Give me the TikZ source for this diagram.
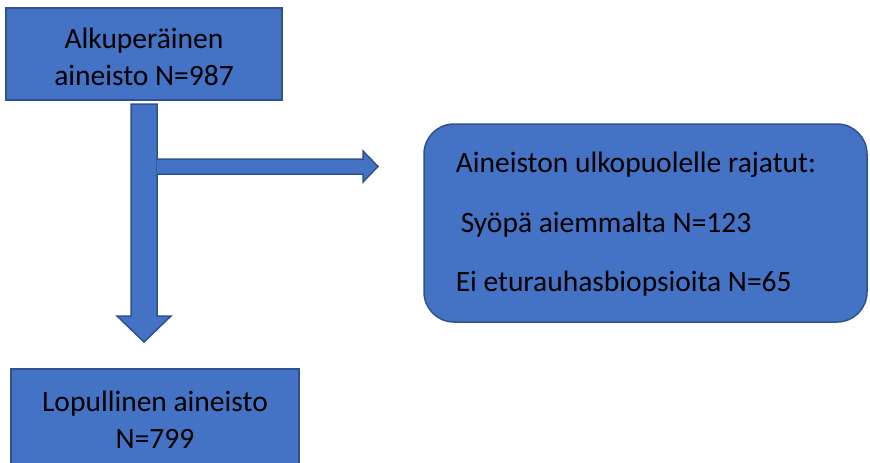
\documentclass[tikz,border=0pt]{standalone}
\usepackage{fontspec}
\setmainfont{Carlito}
\definecolor{boxfill}{RGB}{68,114,196}
\definecolor{boxline}{RGB}{47,82,143}
\tikzset{every picture/.style={line width=1.5pt}}
\tikzset{
  blockshape/.style={draw=boxline, fill=boxfill, line join=miter},
  label/.style={inner sep=0pt, font=\fontsize{29.5}{37}\selectfont, text=black},
}

\begin{document}
\begin{tikzpicture}[x=1pt,y=1pt,yscale=-1,xscale=1]
\useasboundingbox (0,0) rectangle (870,463);

%Shape: Rectangle [original data]
\draw [blockshape] (6,8) rectangle (282,100);
%Shape: Rectangle [final data]
\draw [blockshape] (11,369) rectangle (299,475);
%Shape: Rounded Rectangle [excluded]
\draw [blockshape, rounded corners=30pt] (424,124) rectangle (867,322);

%Shape: Down Arrow
\draw [blockshape] (131,104) -- (157,104) -- (157,316) -- (171,316) -- (144,342) -- (117,316) -- (131,316) -- cycle;
%Shape: Right Arrow
\draw [blockshape] (157,159) -- (363,159) -- (363,151) -- (378,166.5) -- (363,182) -- (363,174) -- (157,174);

% Text Node
\node (orig) [label, align=center] at (144,57) {Alkuperäinen\\aineisto N=987};
% Text Node
\node (final) [label, align=center] at (155,420) {Lopullinen aineisto\\N=799};
% Text Node
\node (excl) [label, anchor=west] at (455,165) {Aineiston ulkopuolelle rajatut:};
% Text Node
\node (cancer) [label, anchor=west] at (460,225) {Syöpä aiemmalta N=123};
% Text Node
\node (biopsy) [label, anchor=west] at (455,284) {Ei eturauhasbiopsioita N=65};

\end{tikzpicture}
\end{document}
